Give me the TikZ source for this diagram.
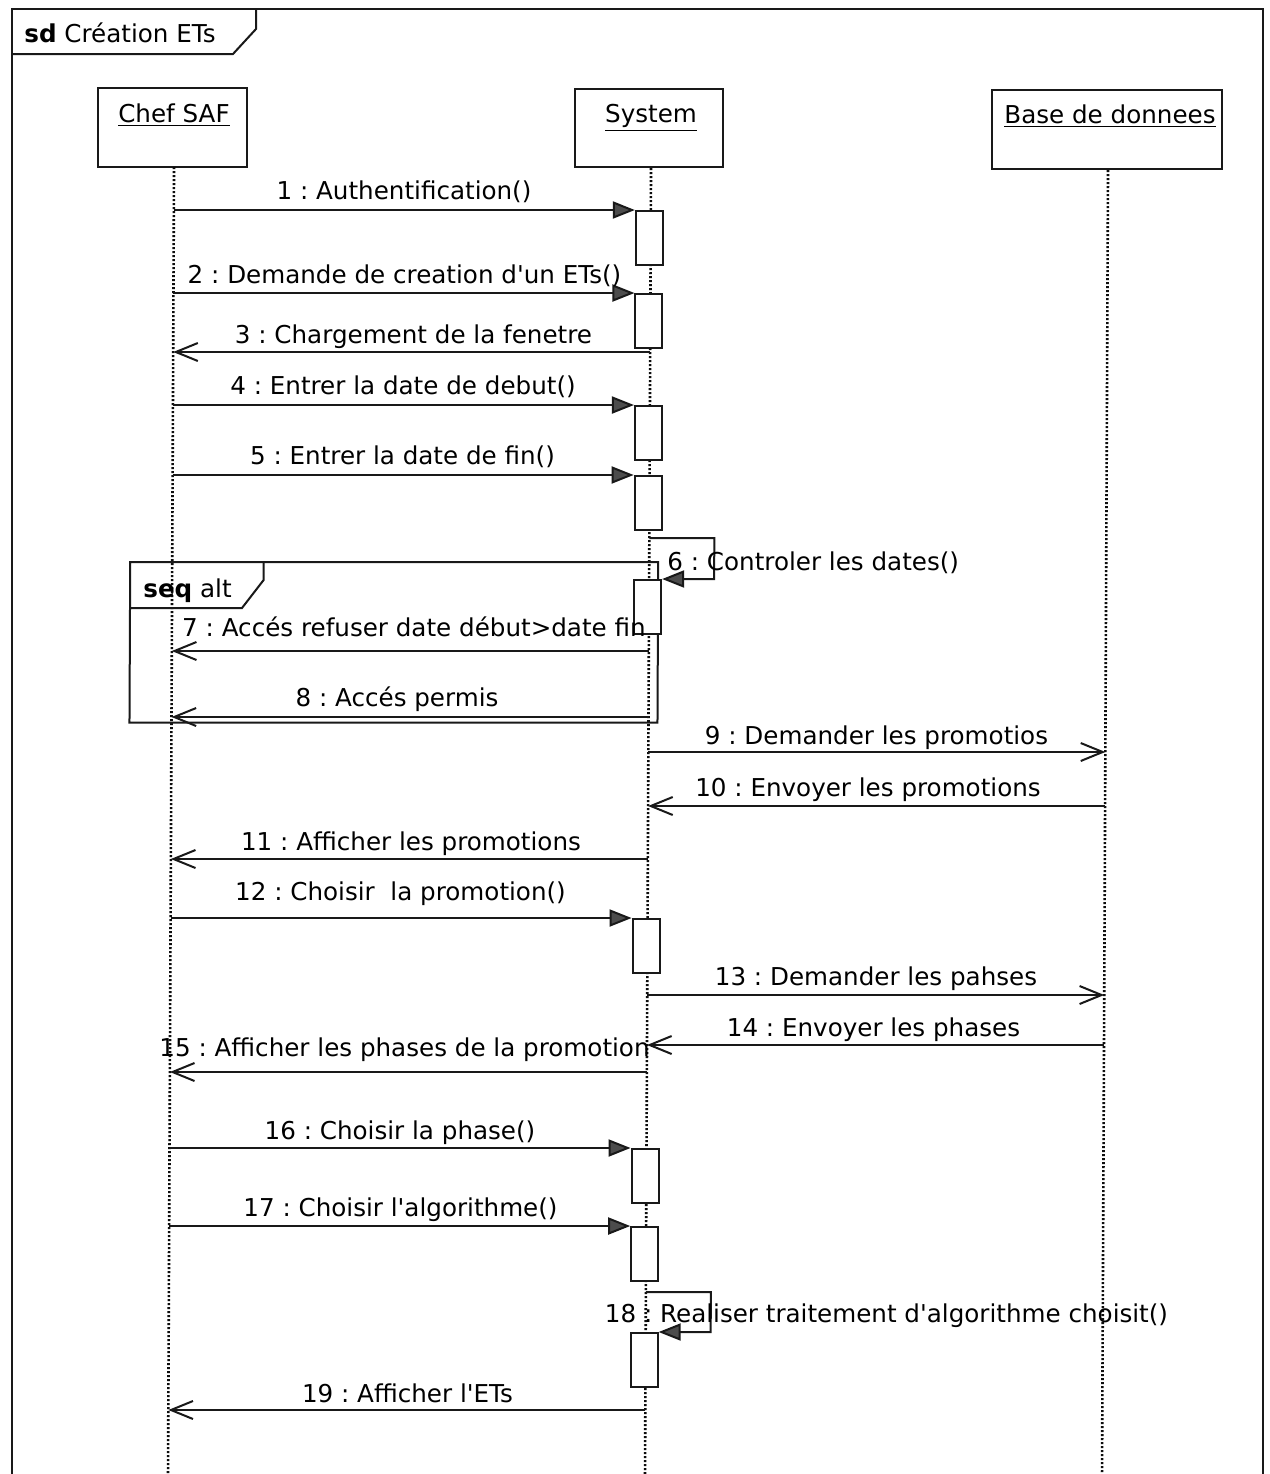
\documentclass[tikz,border=0pt]{standalone}
\usepackage{fontspec}
\setmainfont{DejaVu Sans}
\usetikzlibrary{arrows.meta}
\newcommand\apos{\textquotesingle}
\frenchspacing
\begin{document}
\begin{tikzpicture}[x=0.5pt,y=-0.5pt,
  ink/.style={draw=black!90, line width=1pt},
  lifeline/.style={draw=black!95, line width=1.3pt, dash pattern=on 1pt off 1pt},
  head/.style={ink, rectangle, inner sep=0pt},
  act/.style={ink, fill=white, rectangle, inner sep=0pt, anchor=north west,
              minimum width=13.5pt, minimum height=27pt},
  call/.style={ink, -{Triangle[length=11pt,width=8.5pt,fill=black!70]}},
  reply/.style={ink, -{Straight Barb[length=11pt,width=9pt]}},
  txt/.style={font=\fontsize{12.3}{14}\selectfont, inner sep=0pt, text=black},
  msg/.style={txt, anchor=base},
]
\useasboundingbox (0,0) rectangle (1270,1474);
\fill[white] (0,0) rectangle (1270,1474);

% outer sd frame and its name tab
\draw[ink, line width=1.2pt] (12,1480) -- (12,9) -- (1263,9) -- (1263,1480);
\draw[ink] (12,54) -- (233,54) -- (256,29) -- (256,9);
\node[txt, anchor=base west] (title) at (24,42) {\textbf{sd} Création ETs};

% lifeline heads
\node[head, minimum width=74.5pt, minimum height=39.5pt] (chef) at (172.5,127.5) {};
\node[head, minimum width=74pt, minimum height=39pt] (sys) at (649,128) {};
\node[head, minimum width=115pt, minimum height=39.5pt] (db) at (1107,129.5) {};
\node[msg] (hchef) at (174,122) {\underline{Chef SAF}};
\node[msg] (hsys) at (651,122) {\underline{System}};
\node[msg] (hdb) at (1110,123) {\underline{Base de donnees}};

\begin{scope}[xslant=0.0046]
\def\xc{174.8}\def\xs{651.8}\def\xd{1108.8}
% lifelines
\coordinate (cTop) at (\xc,167); \coordinate (cEnd) at (\xc,1480);
\coordinate (sTop) at (\xs,168); \coordinate (sEnd) at (\xs,1480);
\coordinate (dTop) at (\xd,170); \coordinate (dEnd) at (\xd,1480);
\draw[lifeline] (cTop) -- (cEnd);
\draw[lifeline] (sTop) -- (sEnd);
\draw[lifeline] (dTop) -- (dEnd);

% alt fragment
\draw[ink] (\xc-42,562) -- (\xs+9,562) -- (\xs+9,722.5) -- (\xc-42,722.5) -- cycle;
\draw[ink] (\xc-42,608) -- (\xc+70,608) -- (\xc+91.5,580) -- (\xc+91.5,562);

% activation bars
\node[act] (a1) at (\xs-16,210) {};
\node[act] (a2) at (\xs-16,293) {};
\node[act] (a4) at (\xs-16,405) {};
\node[act] (a5) at (\xs-16,475) {};
\node[act] (a6) at (\xs-16,579) {};
\node[act] (a12) at (\xs-16,918) {};
\node[act] (a16) at (\xs-16,1148) {};
\node[act] (a17) at (\xs-16,1226) {};
\node[act] (a18) at (\xs-16,1332) {};

% message end points on the lifelines
\coordinate (c1) at (\xc,210);
\coordinate (c2) at (\xc,293);
\coordinate (s3) at (\xs,352);  \coordinate (c3) at (\xc,352);
\coordinate (c4) at (\xc,405);
\coordinate (c5) at (\xc,475);
\coordinate (s6a) at (\xs,538); \coordinate (s6b) at (\xs+65,538); \coordinate (s6c) at (\xs+65,579);
\coordinate (s7) at (\xs,651);  \coordinate (c7) at (\xc,651);
\coordinate (s8) at (\xs,717);  \coordinate (c8) at (\xc,717);
\coordinate (s9) at (\xs,752);  \coordinate (d9) at (\xd,752);
\coordinate (d10) at (\xd,806); \coordinate (s10) at (\xs,806);
\coordinate (s11) at (\xs,859); \coordinate (c11) at (\xc,859);
\coordinate (c12) at (\xc,918);
\coordinate (s13) at (\xs,995); \coordinate (d13) at (\xd,995);
\coordinate (d14) at (\xd,1045); \coordinate (s14) at (\xs,1045);
\coordinate (s15) at (\xs,1072); \coordinate (c15) at (\xc,1072);
\coordinate (c16) at (\xc,1148);
\coordinate (c17) at (\xc,1226);
\coordinate (s18a) at (\xs,1292); \coordinate (s18b) at (\xs+65,1292); \coordinate (s18c) at (\xs+65,1332);
\coordinate (s19) at (\xs,1410); \coordinate (c19) at (\xc,1410);

% messages
\draw[call] (c1) -- (a1.north west);
\draw[call] (c2) -- (a2.north west);
\draw[reply] (s3) -- (c3);
\draw[call] (c4) -- (a4.north west);
\draw[call] (c5) -- (a5.north west);
\draw[call] (s6a) -- (s6b) -- (s6c) -- (a6.north east);
\draw[reply] (s7) -- (c7);
\draw[reply] (s8) -- (c8);
\draw[reply] (s9) -- (d9);
\draw[reply] (d10) -- (s10);
\draw[reply] (s11) -- (c11);
\draw[call] (c12) -- (a12.north west);
\draw[reply] (s13) -- (d13);
\draw[reply] (d14) -- (s14);
\draw[reply] (s15) -- (c15);
\draw[call] (c16) -- (a16.north west);
\draw[call] (c17) -- (a17.north west);
\draw[call] (s18a) -- (s18b) -- (s18c) -- (a18.north east);
\draw[reply] (s19) -- (c19);
\end{scope}

% fragment operator
\node[txt, anchor=base west] (altname) at (143,597) {\textbf{seq} alt};

% message labels
\node[msg] (l1) at (404,199) {1 : Authentification()};
\node[msg] (l2) at (404.5,283) {2 : Demande de creation d\apos un ETs()};
\node[msg] (l3) at (413.5,343) {3 : Chargement de la fenetre};
\node[msg] (l4) at (403,394) {4 : Entrer la date de debut()};
\node[msg] (l5) at (402.5,464) {5 : Entrer la date de fin()};
\node[txt, anchor=base west] (l6) at (667,570) {6 : Controler les dates()};
\node[msg] (l7) at (414,636) {7 : Accés refuser date début>date fin};
\node[msg] (l8) at (397,706) {8 : Accés permis};
\node[msg] (l9) at (876.5,744) {9 : Demander les promotios};
\node[msg] (l10) at (868,796) {10 : Envoyer les promotions};
\node[msg] (l11) at (411,850) {11 : Afficher les promotions};
\node[msg] (l12) at (400.5,900) {12 : Choisir\ \ la promotion()};
\node[msg] (l13) at (876,985) {13 : Demander les pahses};
\node[msg] (l14) at (873.5,1036) {14 : Envoyer les phases};
\node[msg] (l15) at (404.5,1056) {15 : Afficher les phases de la promotion};
\node[msg] (l16) at (400,1139) {16 : Choisir la phase()};
\node[msg] (l17) at (400.5,1216) {17 : Choisir l\apos algorithme()};
\node[msg] (l18) at (886.5,1322) {18 : Realiser traitement d\apos algorithme choisit()};
\node[msg] (l19) at (407.5,1402) {19 : Afficher l\apos ETs};
\end{tikzpicture}
\end{document}
